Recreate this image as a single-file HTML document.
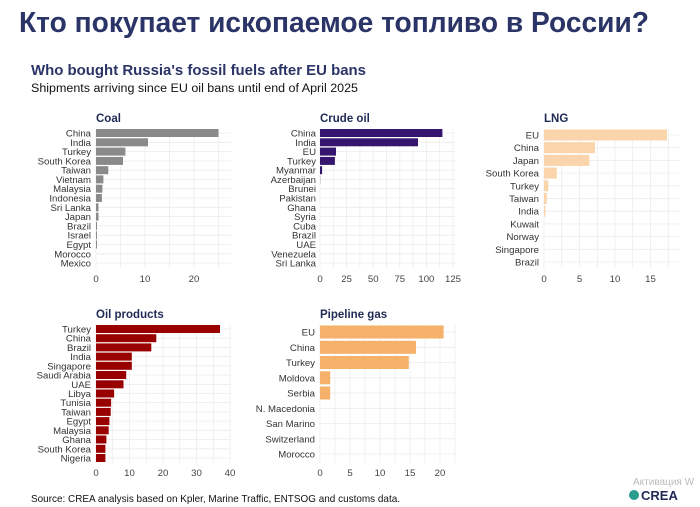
<!DOCTYPE html>
<html><head><meta charset="utf-8"><style>
body{margin:0;background:#fff;width:700px;height:507px;overflow:hidden}
svg{display:block}
.l{font-family:"Liberation Sans",sans-serif;font-size:9.6px;fill:#333;text-anchor:end}
.t{font-family:"Liberation Sans",sans-serif;font-size:9.6px;fill:#444;text-anchor:middle}
.h{font-family:"Liberation Sans",sans-serif;font-size:11.5px;font-weight:bold;fill:#1f2a55}
.g{stroke:#ececec;stroke-width:0.8}
</style></head><body>
<svg width="700" height="507" xmlns="http://www.w3.org/2000/svg">
<text x="19" y="32" textLength="630" lengthAdjust="spacingAndGlyphs" style="font-family:'Liberation Sans',sans-serif;font-size:29px;font-weight:bold;fill:#2b3467">Кто покупает ископаемое топливо в России?</text>
<text x="31" y="75" textLength="335" lengthAdjust="spacingAndGlyphs" style="font-family:'Liberation Sans',sans-serif;font-size:14.5px;font-weight:bold;fill:#2b3467">Who bought Russia's fossil fuels after EU bans</text>
<text x="31" y="92" textLength="327" lengthAdjust="spacingAndGlyphs" style="font-family:'Liberation Sans',sans-serif;font-size:11.5px;fill:#111">Shipments arriving since EU oil bans until end of April 2025</text>

<!-- Coal -->
<text class="h" x="96" y="122">Coal</text>
<g class="g">
<line x1="96" y1="129" x2="96" y2="268"/><line x1="120.5" y1="129" x2="120.5" y2="268"/><line x1="145" y1="129" x2="145" y2="268"/><line x1="169.5" y1="129" x2="169.5" y2="268"/><line x1="194" y1="129" x2="194" y2="268"/><line x1="218.5" y1="129" x2="218.5" y2="268"/>
<line x1="96" y1="133" x2="231" y2="133"/><line x1="96" y1="142.3" x2="231" y2="142.3"/><line x1="96" y1="151.6" x2="231" y2="151.6"/><line x1="96" y1="160.9" x2="231" y2="160.9"/><line x1="96" y1="170.2" x2="231" y2="170.2"/><line x1="96" y1="179.4" x2="231" y2="179.4"/><line x1="96" y1="188.7" x2="231" y2="188.7"/><line x1="96" y1="198" x2="231" y2="198"/><line x1="96" y1="207.3" x2="231" y2="207.3"/><line x1="96" y1="216.6" x2="231" y2="216.6"/><line x1="96" y1="225.9" x2="231" y2="225.9"/><line x1="96" y1="235.2" x2="231" y2="235.2"/><line x1="96" y1="244.5" x2="231" y2="244.5"/><line x1="96" y1="253.8" x2="231" y2="253.8"/><line x1="96" y1="263" x2="231" y2="263"/>
</g>
<g fill="#8a8a8a">
<rect x="96" y="129" width="122.5" height="8"/><rect x="96" y="138.3" width="52" height="8"/><rect x="96" y="147.6" width="29.4" height="8"/><rect x="96" y="156.9" width="27" height="8"/><rect x="96" y="166.2" width="12.3" height="8"/><rect x="96" y="175.4" width="7.4" height="8"/><rect x="96" y="184.7" width="6.4" height="8"/><rect x="96" y="194" width="5.9" height="8"/><rect x="96" y="203.3" width="2.5" height="8"/><rect x="96" y="212.6" width="2.5" height="8"/><rect x="96" y="221.9" width="1" height="8"/><rect x="96" y="231.2" width="1" height="8"/><rect x="96" y="240.5" width="1" height="8"/>
</g>
<g class="l">
<text x="91" y="136.5">China</text><text x="91" y="145.8">India</text><text x="91" y="155.1">Turkey</text><text x="91" y="164.4">South Korea</text><text x="91" y="173.7">Taiwan</text><text x="91" y="182.9">Vietnam</text><text x="91" y="192.2">Malaysia</text><text x="91" y="201.5">Indonesia</text><text x="91" y="210.8">Sri Lanka</text><text x="91" y="220.1">Japan</text><text x="91" y="229.4">Brazil</text><text x="91" y="238.7">Israel</text><text x="91" y="248">Egypt</text><text x="91" y="257.3">Morocco</text><text x="91" y="266.5">Mexico</text>
</g>
<g class="t"><text x="96" y="282">0</text><text x="145" y="282">10</text><text x="194" y="282">20</text></g>

<!-- Crude -->
<text class="h" x="320" y="122">Crude oil</text>
<g class="g">
<line x1="320" y1="129" x2="320" y2="268"/><line x1="333.3" y1="129" x2="333.3" y2="268"/><line x1="346.6" y1="129" x2="346.6" y2="268"/><line x1="359.9" y1="129" x2="359.9" y2="268"/><line x1="373.2" y1="129" x2="373.2" y2="268"/><line x1="386.5" y1="129" x2="386.5" y2="268"/><line x1="399.8" y1="129" x2="399.8" y2="268"/><line x1="413.1" y1="129" x2="413.1" y2="268"/><line x1="426.4" y1="129" x2="426.4" y2="268"/><line x1="439.7" y1="129" x2="439.7" y2="268"/><line x1="453" y1="129" x2="453" y2="268"/>
<line x1="320" y1="133" x2="455" y2="133"/><line x1="320" y1="142.3" x2="455" y2="142.3"/><line x1="320" y1="151.6" x2="455" y2="151.6"/><line x1="320" y1="160.9" x2="455" y2="160.9"/><line x1="320" y1="170.2" x2="455" y2="170.2"/><line x1="320" y1="179.4" x2="455" y2="179.4"/><line x1="320" y1="188.7" x2="455" y2="188.7"/><line x1="320" y1="198" x2="455" y2="198"/><line x1="320" y1="207.3" x2="455" y2="207.3"/><line x1="320" y1="216.6" x2="455" y2="216.6"/><line x1="320" y1="225.9" x2="455" y2="225.9"/><line x1="320" y1="235.2" x2="455" y2="235.2"/><line x1="320" y1="244.5" x2="455" y2="244.5"/><line x1="320" y1="253.8" x2="455" y2="253.8"/><line x1="320" y1="263" x2="455" y2="263"/>
</g>
<g fill="#35156e">
<rect x="320" y="129" width="122.4" height="8"/><rect x="320" y="138.3" width="98" height="8"/><rect x="320" y="147.6" width="16" height="8"/><rect x="320" y="156.9" width="14.9" height="8"/><rect x="320" y="166.2" width="2.1" height="8"/>
</g>
<rect x="320" y="175.4" width="0.8" height="8" fill="#ccc"/>
<g class="l">
<text x="316" y="136.5">China</text><text x="316" y="145.8">India</text><text x="316" y="155.1">EU</text><text x="316" y="164.4">Turkey</text><text x="316" y="173.7">Myanmar</text><text x="316" y="182.9">Azerbaijan</text><text x="316" y="192.2">Brunei</text><text x="316" y="201.5">Pakistan</text><text x="316" y="210.8">Ghana</text><text x="316" y="220.1">Syria</text><text x="316" y="229.4">Cuba</text><text x="316" y="238.7">Brazil</text><text x="316" y="248">UAE</text><text x="316" y="257.3">Venezuela</text><text x="316" y="266.5">Sri Lanka</text>
</g>
<g class="t"><text x="320" y="282">0</text><text x="346.6" y="282">25</text><text x="373.2" y="282">50</text><text x="399.8" y="282">75</text><text x="426.4" y="282">100</text><text x="453" y="282">125</text></g>

<!-- LNG -->
<text class="h" x="544" y="122">LNG</text>
<g class="g">
<line x1="544" y1="129" x2="544" y2="268"/><line x1="561.75" y1="129" x2="561.75" y2="268"/><line x1="579.5" y1="129" x2="579.5" y2="268"/><line x1="597.25" y1="129" x2="597.25" y2="268"/><line x1="615" y1="129" x2="615" y2="268"/><line x1="632.75" y1="129" x2="632.75" y2="268"/><line x1="650.5" y1="129" x2="650.5" y2="268"/><line x1="668.25" y1="129" x2="668.25" y2="268"/>
<line x1="544" y1="135" x2="679" y2="135"/><line x1="544" y1="147.7" x2="679" y2="147.7"/><line x1="544" y1="160.4" x2="679" y2="160.4"/><line x1="544" y1="173.1" x2="679" y2="173.1"/><line x1="544" y1="185.8" x2="679" y2="185.8"/><line x1="544" y1="198.5" x2="679" y2="198.5"/><line x1="544" y1="211.2" x2="679" y2="211.2"/><line x1="544" y1="223.9" x2="679" y2="223.9"/><line x1="544" y1="236.6" x2="679" y2="236.6"/><line x1="544" y1="249.3" x2="679" y2="249.3"/><line x1="544" y1="262" x2="679" y2="262"/>
</g>
<g fill="#fad4aa">
<rect x="544" y="129.5" width="123" height="11"/><rect x="544" y="142.2" width="51" height="11"/><rect x="544" y="154.9" width="45.4" height="11"/><rect x="544" y="167.6" width="12.8" height="11"/><rect x="544" y="180.3" width="4.3" height="11"/><rect x="544" y="193" width="2.8" height="11"/><rect x="544" y="205.7" width="1.4" height="11"/>
</g>
<g class="l">
<text x="539" y="138.5">EU</text><text x="539" y="151.2">China</text><text x="539" y="163.9">Japan</text><text x="539" y="176.6">South Korea</text><text x="539" y="189.3">Turkey</text><text x="539" y="202">Taiwan</text><text x="539" y="214.7">India</text><text x="539" y="227.4">Kuwait</text><text x="539" y="240.1">Norway</text><text x="539" y="252.8">Singapore</text><text x="539" y="265.5">Brazil</text>
</g>
<g class="t"><text x="544" y="282">0</text><text x="579.5" y="282">5</text><text x="615" y="282">10</text><text x="650.5" y="282">15</text></g>

<!-- Oil products -->
<text class="h" x="96" y="318">Oil products</text>
<g class="g">
<line x1="96" y1="324" x2="96" y2="463"/><line x1="112.75" y1="324" x2="112.75" y2="463"/><line x1="129.5" y1="324" x2="129.5" y2="463"/><line x1="146.25" y1="324" x2="146.25" y2="463"/><line x1="163" y1="324" x2="163" y2="463"/><line x1="179.75" y1="324" x2="179.75" y2="463"/><line x1="196.5" y1="324" x2="196.5" y2="463"/><line x1="213.25" y1="324" x2="213.25" y2="463"/><line x1="230" y1="324" x2="230" y2="463"/>
<line x1="96" y1="329" x2="231" y2="329"/><line x1="96" y1="338.2" x2="231" y2="338.2"/><line x1="96" y1="347.4" x2="231" y2="347.4"/><line x1="96" y1="356.6" x2="231" y2="356.6"/><line x1="96" y1="365.8" x2="231" y2="365.8"/><line x1="96" y1="375" x2="231" y2="375"/><line x1="96" y1="384.3" x2="231" y2="384.3"/><line x1="96" y1="393.5" x2="231" y2="393.5"/><line x1="96" y1="402.7" x2="231" y2="402.7"/><line x1="96" y1="411.9" x2="231" y2="411.9"/><line x1="96" y1="421.1" x2="231" y2="421.1"/><line x1="96" y1="430.3" x2="231" y2="430.3"/><line x1="96" y1="439.5" x2="231" y2="439.5"/><line x1="96" y1="448.8" x2="231" y2="448.8"/><line x1="96" y1="458" x2="231" y2="458"/>
</g>
<g fill="#990000">
<rect x="96" y="325" width="124" height="8"/><rect x="96" y="334.2" width="60.3" height="8"/><rect x="96" y="343.4" width="55.3" height="8"/><rect x="96" y="352.6" width="35.8" height="8"/><rect x="96" y="361.8" width="35.8" height="8"/><rect x="96" y="371" width="30.2" height="8"/><rect x="96" y="380.3" width="27.5" height="8"/><rect x="96" y="389.5" width="18.1" height="8"/><rect x="96" y="398.7" width="15.1" height="8"/><rect x="96" y="407.9" width="14.7" height="8"/><rect x="96" y="417.1" width="13.4" height="8"/><rect x="96" y="426.3" width="12.7" height="8"/><rect x="96" y="435.5" width="10.4" height="8"/><rect x="96" y="444.8" width="9.4" height="8"/><rect x="96" y="454" width="9.4" height="8"/>
</g>
<g class="l">
<text x="91" y="332.5">Turkey</text><text x="91" y="341.7">China</text><text x="91" y="350.9">Brazil</text><text x="91" y="360.1">India</text><text x="91" y="369.3">Singapore</text><text x="91" y="378.5">Saudi Arabia</text><text x="91" y="387.8">UAE</text><text x="91" y="397">Libya</text><text x="91" y="406.2">Tunisia</text><text x="91" y="415.4">Taiwan</text><text x="91" y="424.6">Egypt</text><text x="91" y="433.8">Malaysia</text><text x="91" y="443">Ghana</text><text x="91" y="452.3">South Korea</text><text x="91" y="461.5">Nigeria</text>
</g>
<g class="t"><text x="96" y="476">0</text><text x="129.5" y="476">10</text><text x="163" y="476">20</text><text x="196.5" y="476">30</text><text x="230" y="476">40</text></g>

<!-- Pipeline gas -->
<text class="h" x="320" y="318">Pipeline gas</text>
<g class="g">
<line x1="320" y1="324" x2="320" y2="463"/><line x1="335" y1="324" x2="335" y2="463"/><line x1="350" y1="324" x2="350" y2="463"/><line x1="365" y1="324" x2="365" y2="463"/><line x1="380" y1="324" x2="380" y2="463"/><line x1="395" y1="324" x2="395" y2="463"/><line x1="410" y1="324" x2="410" y2="463"/><line x1="425" y1="324" x2="425" y2="463"/><line x1="440" y1="324" x2="440" y2="463"/><line x1="455" y1="324" x2="455" y2="463"/>
<line x1="320" y1="332" x2="455" y2="332"/><line x1="320" y1="347.3" x2="455" y2="347.3"/><line x1="320" y1="362.5" x2="455" y2="362.5"/><line x1="320" y1="377.8" x2="455" y2="377.8"/><line x1="320" y1="393" x2="455" y2="393"/><line x1="320" y1="408.3" x2="455" y2="408.3"/><line x1="320" y1="423.5" x2="455" y2="423.5"/><line x1="320" y1="438.8" x2="455" y2="438.8"/><line x1="320" y1="454" x2="455" y2="454"/>
</g>
<g fill="#f5b06a">
<rect x="320" y="325.5" width="123.6" height="13"/><rect x="320" y="340.8" width="96" height="13"/><rect x="320" y="356" width="88.8" height="13"/><rect x="320" y="371.3" width="10.2" height="13"/><rect x="320" y="386.5" width="10.2" height="13"/>
</g>
<g class="l">
<text x="315" y="335.5">EU</text><text x="315" y="350.8">China</text><text x="315" y="366">Turkey</text><text x="315" y="381.3">Moldova</text><text x="315" y="396.5">Serbia</text><text x="315" y="411.8">N. Macedonia</text><text x="315" y="427">San Marino</text><text x="315" y="442.3">Switzerland</text><text x="315" y="457.5">Morocco</text>
</g>
<g class="t"><text x="320" y="476">0</text><text x="350" y="476">5</text><text x="380" y="476">10</text><text x="410" y="476">15</text><text x="440" y="476">20</text></g>

<text x="31" y="502" textLength="369" lengthAdjust="spacingAndGlyphs" style="font-family:'Liberation Sans',sans-serif;font-size:10.5px;fill:#111">Source: CREA analysis based on Kpler, Marine Traffic, ENTSOG and customs data.</text>
<text x="633" y="485" style="font-family:'Liberation Sans',sans-serif;font-size:10px;fill:#bbb">Активация W</text>
<circle cx="634" cy="495" r="5" fill="#2a9d8f"/>
<text x="641" y="500" style="font-family:'Liberation Sans',sans-serif;font-size:13px;font-weight:bold;fill:#1f2a55">CREA</text>
</svg>
</body></html>
